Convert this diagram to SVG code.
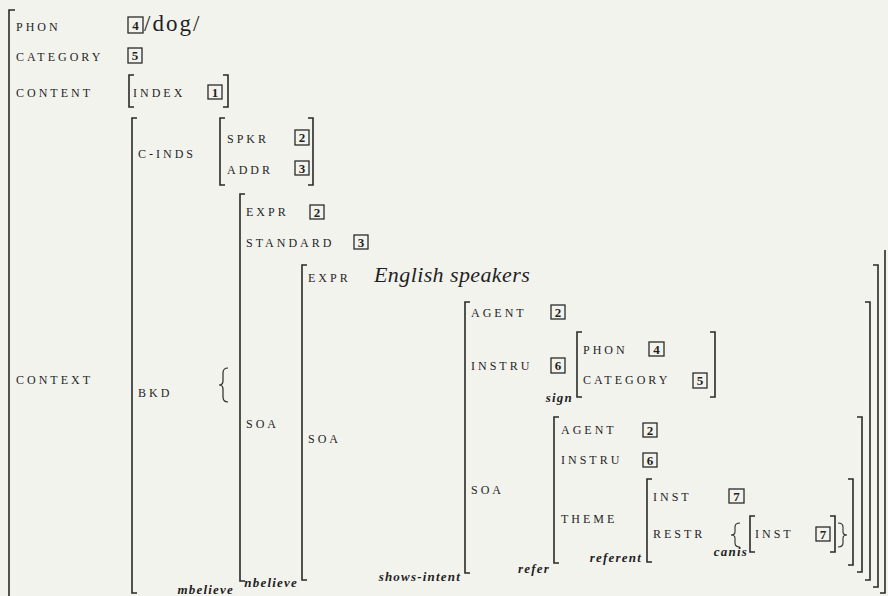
<svg xmlns="http://www.w3.org/2000/svg" width="888" height="596" viewBox="0 0 888 596">
<style>
.k{font-family:"Liberation Serif",serif;font-size:12px;letter-spacing:3px;fill:#1f1f1f}
.ty{font-family:"Liberation Serif",serif;font-size:13px;font-style:italic;font-weight:bold;letter-spacing:1.2px;fill:#1f1f1f;text-anchor:end}
.br{fill:none;stroke:#2a2a2a;stroke-width:1.6}
.bx{fill:none;stroke:#2a2a2a;stroke-width:1.3}
.n{font-family:"Liberation Serif",serif;font-size:13px;font-weight:bold;fill:#1f1f1f;text-anchor:middle}
.big{font-family:"Liberation Serif",serif;fill:#1f1f1f}
</style>
<rect width="888" height="596" fill="#f3f3ee"/>

<g id="brackets">
<path class="br" d="M15,10 H9 V600"/>
<path class="br" d="M134,75 H129 V107 H134 M223,75 H228 V107 H223"/>
<path class="br" d="M137,118 H132 V593 H137 M885,250 V593 H880"/>
<path class="br" d="M225,118 H220 V185 H225 M308,118 H313 V185 H308"/>
<path class="br" d="M245,194 H240 V581 H245"/>
<path class="br" d="M307,265 H302 V580 H307 M873,265 H878 V587 H873"/>
<path class="br" d="M470,302 H465 V573 H470 M865,302 H870 V580 H865"/>
<path class="br" d="M582,332 H577 V397 H582 M710,332 H715 V397 H710"/>
<path class="br" d="M559,417 H554 V563 H559 M857,417 H862 V572 H857"/>
<path class="br" d="M652,479 H647 V562 H652 M848,479 H853 V565 H848"/>
<path class="br" d="M755,516 H750 V552 H755 M830,516 H835 V552 H830"/>
<path fill="none" stroke="#2a2a2a" stroke-width="1.2" d="M228,368 Q223,368 223,373 L223,381 Q223,385 219,385 Q223,385 223,389 L223,397 Q223,402 228,402"/>
<path fill="none" stroke="#2a2a2a" stroke-width="1.1" d="M740,523 Q735,523 735,527 L735,532 Q735,535 731,535 Q735,535 735,538 L735,543 Q735,547 740,547"/>
<path fill="none" stroke="#2a2a2a" stroke-width="1.1" d="M838,523 Q843,523 843,527 L843,532 Q843,535 847,535 Q843,535 843,538 L843,543 Q843,547 838,547"/>
</g>

<g id="top">
<text class="k" x="16" y="31">PHON</text>
<text class="k" x="16" y="61">CATEGORY</text>
<text class="k" x="16" y="97">CONTENT</text>
<text class="k" x="16" y="384">CONTEXT</text>
<rect class="bx" x="128" y="17" width="15" height="16"/><text class="n" x="135.5" y="30">4</text>
<text class="big" x="144" y="31" font-size="23" letter-spacing="2">/dog/</text>
<rect class="bx" x="128" y="48" width="14" height="15"/><text class="n" x="135" y="60">5</text>
<text class="k" x="133" y="97">INDEX</text>
<rect class="bx" x="208" y="85" width="14" height="14"/><text class="n" x="215" y="97">1</text>
</g>

<g id="context">
<text class="k" x="138" y="158">C-INDS</text>
<text class="k" x="138" y="397">BKD</text>
<text class="k" x="227" y="143">SPKR</text>
<rect class="bx" x="295" y="130" width="14" height="15"/><text class="n" x="302" y="142">2</text>
<text class="k" x="227" y="174">ADDR</text>
<rect class="bx" x="295" y="161" width="14" height="14"/><text class="n" x="302" y="173">3</text>
</g>

<g id="mbelieve">
<text class="k" x="246" y="216">EXPR</text>
<rect class="bx" x="310" y="205" width="14" height="14"/><text class="n" x="317" y="217">2</text>
<text class="k" x="246" y="247">STANDARD</text>
<rect class="bx" x="354" y="235" width="14" height="14"/><text class="n" x="361" y="247">3</text>
<text class="k" x="246" y="428">SOA</text>
<text class="ty" x="234" y="594">mbelieve</text>
</g>

<g id="nbelieve">
<text class="k" x="308" y="282">EXPR</text>
<text class="big" x="374" y="282" font-size="22" font-style="italic" letter-spacing="0.4">English speakers</text>
<text class="k" x="308" y="443">SOA</text>
<text class="ty" x="298" y="587">nbelieve</text>
</g>

<g id="shows-intent">
<text class="k" x="471" y="317">AGENT</text>
<rect class="bx" x="551" y="305" width="14" height="14"/><text class="n" x="558" y="317">2</text>
<text class="k" x="471" y="370">INSTRU</text>
<rect class="bx" x="551" y="358" width="14" height="15"/><text class="n" x="558" y="370">6</text>
<text class="k" x="471" y="494">SOA</text>
<text class="ty" x="461" y="581">shows-intent</text>
</g>

<g id="sign">
<text class="k" x="583" y="354">PHON</text>
<rect class="bx" x="649" y="342" width="15" height="14"/><text class="n" x="656.5" y="354">4</text>
<text class="k" x="583" y="384">CATEGORY</text>
<rect class="bx" x="693" y="373" width="14" height="15"/><text class="n" x="700" y="385">5</text>
<text class="ty" x="573" y="402">sign</text>
</g>

<g id="refer">
<text class="k" x="561" y="434">AGENT</text>
<rect class="bx" x="643" y="423" width="14" height="14"/><text class="n" x="650" y="435">2</text>
<text class="k" x="561" y="464">INSTRU</text>
<rect class="bx" x="643" y="453" width="14" height="14"/><text class="n" x="650" y="465">6</text>
<text class="k" x="561" y="523">THEME</text>
<text class="ty" x="550" y="573">refer</text>
</g>

<g id="referent">
<text class="k" x="653" y="501">INST</text>
<rect class="bx" x="729" y="489" width="15" height="14"/><text class="n" x="736.5" y="501">7</text>
<text class="k" x="653" y="538">RESTR</text>
<text class="ty" x="642" y="562">referent</text>
</g>

<g id="canis">
<text class="k" x="755" y="538">INST</text>
<rect class="bx" x="816" y="527" width="14" height="14"/><text class="n" x="823" y="539">7</text>
<text class="ty" x="748" y="556">canis</text>
</g>
</svg>
